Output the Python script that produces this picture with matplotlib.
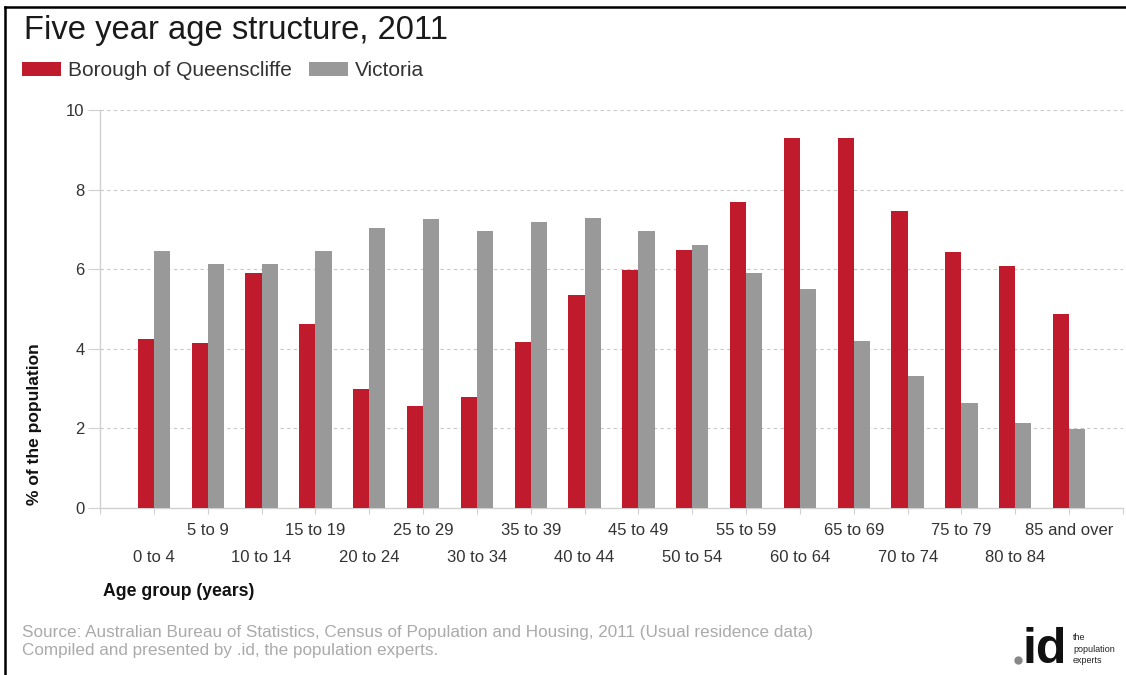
import matplotlib
matplotlib.use("Agg")
import matplotlib.pyplot as plt
from matplotlib.patches import Patch
from matplotlib.lines import Line2D
import numpy as np

plt.rcParams['font.family'] = ['Liberation Sans', 'DejaVu Sans']

# Five year age groups, % of total population (Census 2011)
age_groups = ["0 to 4", "5 to 9", "10 to 14", "15 to 19", "20 to 24", "25 to 29",
              "30 to 34", "35 to 39", "40 to 44", "45 to 49", "50 to 54", "55 to 59",
              "60 to 64", "65 to 69", "70 to 74", "75 to 79", "80 to 84", "85 and over"]
queenscliffe = [4.25, 4.14, 5.90, 4.62, 2.98, 2.56, 2.79, 4.17, 5.35, 5.97,
                6.47, 7.68, 9.29, 9.29, 7.46, 6.42, 6.09, 4.87]
victoria = [6.46, 6.12, 6.12, 6.46, 7.03, 7.26, 6.96, 7.19, 7.29, 6.96,
            6.61, 5.91, 5.51, 4.20, 3.32, 2.65, 2.14, 1.98]
y_ticks = [0, 2, 4, 6, 8, 10]

RED = "#BF1B2C"
GREY = "#999999"
TEXT = "#333333"
LIGHT = "#d0d0d0"

W, H = 1126, 675
fig = plt.figure(figsize=(W / 100, H / 100), dpi=100)
ax = fig.add_axes([100 / W, 1 - 508 / H, 1023 / W, 398 / H])

x = np.arange(len(age_groups))
bw = 0.3
ax.bar(x - bw / 2, queenscliffe, width=bw, color=RED, linewidth=0, zorder=3)
ax.bar(x + bw / 2, victoria, width=bw, color=GREY, linewidth=0, zorder=3)

ax.set_xlim(-1, len(age_groups))
ax.set_ylim(0, 10)

# y axis
ax.set_yticks(y_ticks)
ax.set_yticklabels([str(v) for v in y_ticks])
ax.tick_params(axis='y', length=9, width=0.8, color=LIGHT, pad=2,
               labelsize=12, labelcolor=TEXT)
for v in y_ticks[1:]:
    ax.axhline(v, color="#c8c8c8", linewidth=0.8, linestyle=(0, (3, 3)), zorder=1)

# x axis: tick at every slot, labels staggered over two rows
ax.set_xticks(np.arange(-1, len(age_groups) + 1))
ax.set_xticklabels([""] + age_groups + [""])
ax.tick_params(axis='x', length=4.5, width=0.8, color=LIGHT,
               labelsize=12, labelcolor=TEXT, pad=6)
for i, tick in enumerate(ax.xaxis.get_major_ticks()):
    idx = i - 1
    if 0 <= idx < len(age_groups) and idx % 2 == 0:
        tick.set_pad(26)

for side in ("top", "right"):
    ax.spines[side].set_visible(False)
for side in ("left", "bottom"):
    ax.spines[side].set_color(LIGHT)
    ax.spines[side].set_linewidth(1.0)

ax.set_xlabel("Age group (years)", fontsize=12.7, fontweight='bold', color="#111111",
              ha='left', va='center')
ax.xaxis.set_label_coords(3 / 1023, (508 - 592) / 398)
ax.set_ylabel("% of the population", fontsize=12.5, fontweight='bold', color="#111111",
              ha='center', va='center')
ax.yaxis.set_label_coords(-65 / 1023, (508 - 424) / 398)

# title
fig.text(24 / W, 1 - 39 / H, "Five year age structure, 2011", fontsize=23.6,
         color="#1a1a1a", ha='left', va='baseline')

# legend
handles = [Patch(facecolor=RED, edgecolor='none', label="Borough of Queenscliffe"),
           Patch(facecolor=GREY, edgecolor='none', label="Victoria")]
fig.legend(handles=handles, loc='center left', bbox_to_anchor=(22 / W, 1 - 71 / H),
           ncol=2, frameon=False, fontsize=15, handlelength=1.86, handleheight=0.65,
           handletextpad=0.33, columnspacing=0.84, borderpad=0, borderaxespad=0,
           labelcolor=TEXT)

# source notes
fig.text(22 / W, 1 - 633 / H,
         "Source: Australian Bureau of Statistics, Census of Population and Housing, 2011 (Usual residence data)",
         fontsize=12.3, color="#aaaaaa", ha='left', va='center')
fig.text(22 / W, 1 - 651 / H, "Compiled and presented by .id, the population experts.",
         fontsize=12.3, color="#aaaaaa", ha='left', va='center')

# .id mark
fig.add_artist(Line2D([1018 / W], [1 - 660 / H], transform=fig.transFigure,
                      marker='o', markersize=5, color="#888888", linestyle='none'))
fig.text(1023 / W, 1 - 663 / H, "id", fontsize=36, fontweight='bold', color="#111111",
         ha='left', va='baseline')
fig.text(1073 / W, 1 - 649 / H, "the\npopulation\nexperts", fontsize=6.5, color="#222222",
         ha='left', va='center', linespacing=1.35)

# frame around the graphic
fig.add_artist(Line2D([5 / W, 5 / W], [0, 1 - 7 / H], transform=fig.transFigure,
                      color="black", linewidth=1.8))
fig.add_artist(Line2D([5 / W, 1], [1 - 7 / H, 1 - 7 / H], transform=fig.transFigure,
                      color="black", linewidth=1.8))

fig.savefig("out.png", dpi=100, facecolor="white")
